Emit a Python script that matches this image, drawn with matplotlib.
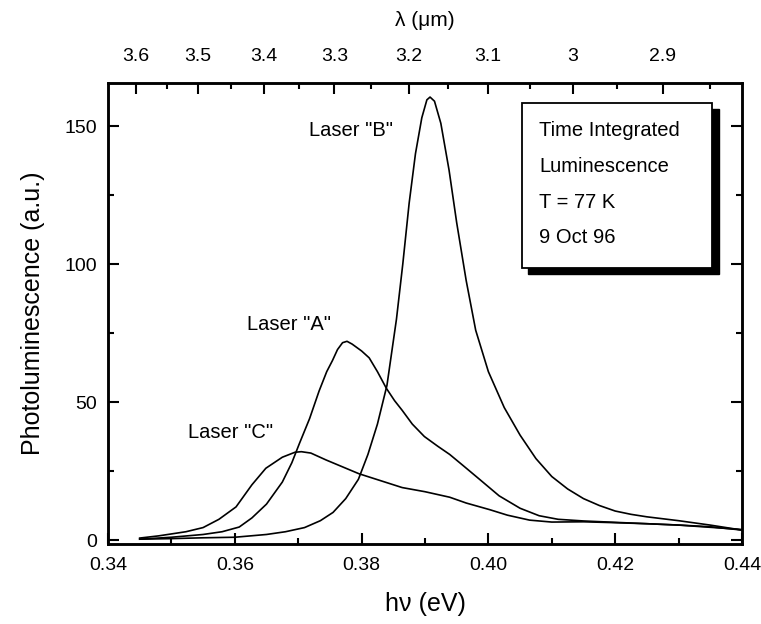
import matplotlib
matplotlib.use("Agg")
import matplotlib.pyplot as plt
from matplotlib.patches import Rectangle
from matplotlib.ticker import MultipleLocator, FixedLocator

plt.rcParams['font.family'] = ['Liberation Sans', 'DejaVu Sans']

# Laser "B"
energy_b = [0.345, 0.350, 0.355, 0.360, 0.365, 0.368, 0.371, 0.3735, 0.3755, 0.3775,
            0.3795, 0.381, 0.3825, 0.3840, 0.3855, 0.3865, 0.3875, 0.3885, 0.3895, 0.3903,
            0.3908, 0.3915, 0.3925, 0.3938, 0.395, 0.3965, 0.398, 0.400, 0.4025, 0.405,
            0.4075, 0.410, 0.4125, 0.415, 0.4175, 0.420, 0.4225, 0.425, 0.4275, 0.430,
            0.4325, 0.435, 0.4375, 0.440]
pl_b = [0.3, 0.5, 0.8, 1.0, 2.0, 3.0, 4.5, 7.0, 10.0, 15.0,
        22.0, 31.0, 42.0, 56.0, 80.0, 100.0, 122.0, 140.0, 153.0, 159.5,
        160.5, 159.0, 151.0, 134.0, 115.0, 94.0, 76.0, 61.0, 48.0, 38.0,
        29.5, 23.0, 18.5, 15.0, 12.5, 10.5, 9.3, 8.4, 7.7, 7.0,
        6.2, 5.4, 4.5, 3.6]

# Laser "A"
energy_a = [0.345, 0.350, 0.355, 0.358, 0.3607, 0.3627, 0.365, 0.3675, 0.3690, 0.3702,
            0.3718, 0.3733, 0.3745, 0.3754, 0.3762, 0.3770, 0.3777, 0.3785, 0.3800, 0.3812,
            0.3825, 0.3839, 0.3852, 0.3864, 0.3880, 0.3899, 0.3920, 0.3939, 0.396, 0.3986,
            0.4017, 0.405, 0.408, 0.411, 0.415, 0.420, 0.425, 0.430, 0.435, 0.440]
pl_a = [0.3, 1.0, 2.0, 3.0, 4.7, 8.0, 13.0, 21.0, 28.0, 35.0,
        44.0, 54.0, 61.0, 65.0, 69.0, 71.5, 72.0, 71.0, 68.5, 66.0,
        61.0, 55.0, 50.5, 47.0, 42.0, 37.5, 34.0, 31.0, 27.0, 22.0,
        16.0, 11.5, 8.8, 7.5, 6.9, 6.4, 5.9, 5.4, 4.6, 3.8]

# Laser "C"
energy_c = [0.345, 0.348, 0.3523, 0.355, 0.3575, 0.3602, 0.3627, 0.3649, 0.3675,
            0.3695, 0.3705, 0.372, 0.3744, 0.377, 0.3796, 0.383, 0.3864, 0.390,
            0.3939, 0.3965, 0.4002, 0.403, 0.4065, 0.410, 0.415, 0.4196, 0.425, 0.4302,
            0.435, 0.440]
pl_c = [0.7, 1.5, 3.0, 4.5, 7.5, 12.0, 20.0, 26.0, 30.0,
        31.8, 32.0, 31.5, 29.0, 26.5, 24.0, 21.5, 19.0, 17.5,
        15.5, 13.4, 11.0, 9.0, 7.2, 6.5, 6.6, 6.3, 5.9, 5.4,
        4.8, 3.6]

wavelength_ticks = [3.6, 3.5, 3.4, 3.3, 3.2, 3.1, 3.0, 2.9]
wavelength_labels = ["3.6", "3.5", "3.4", "3.3", "3.2", "3.1", "3", "2.9"]
wavelength_minor = [3.55, 3.45, 3.35, 3.25, 3.15, 3.05, 2.95, 2.85]
HC = 1.23984  # eV * um

info_lines = ["Time Integrated", "Luminescence", "T = 77 K", "9 Oct 96"]

fig = plt.figure(figsize=(7.61, 6.24), dpi=100)
ax = fig.add_axes([0.1419, 0.1282, 0.8331, 0.7388])

for e, p in ((energy_b, pl_b), (energy_a, pl_a), (energy_c, pl_c)):
    ax.plot(e, p, color='black', lw=1.2)

ax.set_xlim(0.34, 0.44)
ax.set_ylim(-1.45, 165.6)
ax.xaxis.set_major_locator(MultipleLocator(0.02))
ax.xaxis.set_minor_locator(MultipleLocator(0.01))
ax.xaxis.set_major_formatter(matplotlib.ticker.FormatStrFormatter('%.2f'))
ax.yaxis.set_major_locator(FixedLocator([0, 50, 100, 150]))
ax.yaxis.set_minor_locator(FixedLocator([25, 75, 125]))
ax.tick_params(which='both', direction='in', top=False, right=True, labelsize=14, width=1.5)
ax.tick_params(which='major', length=8)
ax.tick_params(which='minor', length=4)
ax.tick_params(axis='x', pad=9)
ax.tick_params(axis='y', pad=8)
for s in ax.spines.values():
    s.set_linewidth(1.8)

ax.set_xlabel("hν (eV)", fontsize=18, labelpad=13)
ax.set_ylabel("Photoluminescence (a.u.)", fontsize=18, labelpad=14)

top = ax.twiny()
top.set_xlim(ax.get_xlim())
top.xaxis.set_major_locator(FixedLocator([HC / w for w in wavelength_ticks]))
top.xaxis.set_minor_locator(FixedLocator([HC / w for w in wavelength_minor]))
top.set_xticklabels(wavelength_labels)
top.tick_params(which='both', direction='in', labelsize=14, width=1.5, pad=13)
top.tick_params(which='major', length=8)
top.tick_params(which='minor', length=4)
top.set_xlabel("λ (μm)", fontsize=15, labelpad=16)
for s in top.spines.values():
    s.set_linewidth(1.8)

ax.text(0.3784, 148.5, 'Laser "B"', fontsize=14.5, ha='center', va='center')
ax.text(0.3686, 78, 'Laser "A"', fontsize=14.5, ha='center', va='center')
ax.text(0.3594, 38.8, 'Laser "C"', fontsize=14.5, ha='center', va='center')

# info box with shadow
bx0, bx1, by0, by1 = 0.653, 0.953, 0.599, 0.957
dx, dy = 0.010, 0.014
ax.add_patch(Rectangle((bx0 + dx, by0 - dy), bx1 - bx0, by1 - by0, transform=ax.transAxes,
                       facecolor='black', edgecolor='black', zorder=5))
ax.add_patch(Rectangle((bx0, by0), bx1 - bx0, by1 - by0, transform=ax.transAxes,
                       facecolor='white', edgecolor='black', lw=1.3, zorder=6))
for yy, line in zip([0.898, 0.818, 0.740, 0.664], info_lines):
    ax.text(0.680, yy, line, transform=ax.transAxes, fontsize=14.5, ha='left', va='center', zorder=7)

fig.savefig("out.png", dpi=100)
